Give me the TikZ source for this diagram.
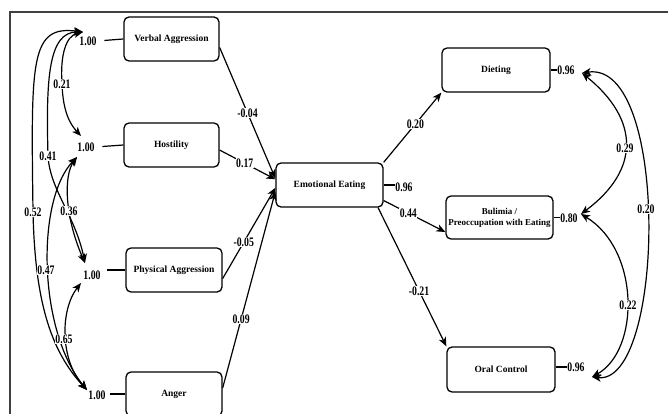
\documentclass[tikz,border=0pt]{standalone}
\usepackage{fontspec}
\setmainfont{Liberation Serif}
\newfontfamily\numfont[FakeStretch=0.75]{Liberation Serif}
\usetikzlibrary{arrows.meta}
\begin{document}
\begin{tikzpicture}[x=1pt,y=-1pt,
  box/.style={draw, line width=1.3pt, rounded corners=5pt, minimum width=95pt, minimum height=44pt, inner sep=1pt, font=\bfseries\fontsize{9.5}{11}\selectfont, align=center},
  coef/.style={font=\numfont\bfseries\fontsize{13}{14}\selectfont, inner sep=0.6pt},
  lab/.style={coef, fill=white},
  tip/.tip={Stealth[length=9pt,width=7.5pt,inset=2.5pt]},
  arr/.style={line width=1.2pt, -tip},
  cov/.style={line width=1.2pt, tip-tip},
  stub/.style={line width=1.2pt}]
\useasboundingbox (0,0) rectangle (668,414);
\clip (0,0) rectangle (668,414);
\draw[line width=1.2pt, black!75] (10,12) rectangle (700,460);

% exogenous boxes
\node[box] (va) at (171.5,39) {Verbal Aggression};
\node[box] (ho) at (171.5,145) {Hostility};
\node[box, minimum width=96pt] (pa) at (174,270) {Physical Aggression};
\node[box, minimum width=96pt] (an) at (174,394) {Anger};
% mediator and outcomes
\node[box, minimum width=107pt] (ee) at (329.5,185) {Emotional Eating};
\node[box, minimum width=108pt] (di) at (496,70) {Dieting};
\node[box, minimum width=107pt, minimum height=43pt, font=\bfseries\fontsize{9}{11}\selectfont] (bu) at (499.5,217.5) {Bulimia /\\Preoccupation with Eating};
\node[box, minimum width=108pt, minimum height=45pt] (oc) at (501,369.5) {Oral Control};

% variances
\node[coef] (eva) at (88,41) {1.00};
\node[coef] (eho) at (86,147) {1.00};
\node[coef] (epa) at (92,275) {1.00};
\node[coef] (ean) at (97,395) {1.00};
\draw[stub, shorten <=7pt] (eva.east) -- (va.west);
\draw[stub, shorten <=7pt] (eho.east) -- (ho.west);
\draw[stub, shorten <=6pt] (epa.east |- pa.west) -- (pa.west);
\draw[stub, shorten <=4pt] (ean.east |- an.west) -- (an.west);

\node[coef] (eee) at (404,187) {0.96};
\node[coef] (edi) at (566,70) {0.96};
\node[coef] (ebu) at (569,218) {0.80};
\node[coef] (eoc) at (576,367) {0.96};
\draw[stub] (ee.east) -- (ee.east -| eee.west);
\draw[stub] (di.east) -- (di.east -| edi.west);
\draw[stub] (bu.east) -- (bu.east -| ebu.west);
\draw[stub] (oc.east |- eoc.west) -- (eoc.west);

% covariance tips
\coordinate (tVA) at (83,32);
\coordinate (tH1) at (81,136);
\coordinate (tH2) at (77,157);
\coordinate (tPA1) at (85,263);
\coordinate (tPA2) at (81,283);
\coordinate (tAn) at (87,390);
\coordinate (c41) at (48,156);
\coordinate (c52) at (33,212);
\coordinate (tD) at (582,73);
\coordinate (tB) at (581,214);
\coordinate (tO) at (592,377);

% left covariances
\draw[cov] (tVA) .. controls (66,36) and (60,55) .. (62,84) .. controls (63,112) and (70,124) .. (tH1);
\draw[cov] (tVA) .. controls (48,32) and (46,80) .. (c41) .. controls (50,190) and (75,215) .. (tPA1);
\draw[cov] (tVA) .. controls (30,25) and (31,60) .. (c52) .. controls (35,300) and (50,350) .. (tAn);
\draw[cov] (tH2) .. controls (64,175) and (64,215) .. (tPA1);
\draw[cov] (tH2) .. controls (36,200) and (38,330) .. (tAn);
\draw[cov] (tPA2) .. controls (60,310) and (60,360) .. (tAn);
\node[lab] (l21) at (62,84) {0.21};
\node[lab] (l41) at (c41) {0.41};
\node[lab] (l52) at (c52) {0.52};
\node[lab] (l36) at (69,211) {0.36};
\node[lab] (l47) at (46,270) {0.47};
\node[lab] (l65) at (64,339) {0.65};

% right covariances
\draw[cov] (tD) .. controls (640,120) and (640,170) .. (tB);
\draw[cov] (tB) .. controls (640,250) and (640,350) .. (tO);
\draw[cov] (tD) .. controls (670,60) and (665,385) .. (tO);
\node[lab] (l29) at (625,148) {0.29};
\node[lab] (l22) at (628,305) {0.22};
\node[lab] (l20) at (646,209) {0.20};

% structural paths
\draw[arr] (va.-10) -- node[lab, pos=0.5] {-0.04} (ee.173.6);
\draw[arr] (ho.-6) -- node[lab, pos=0.45] {0.17} (ee.174.5);
\draw[arr] (pa.-10) -- node[lab, pos=0.4] {-0.05} (ee.183);
\draw[arr] (an.7) -- node[lab, pos=0.35] {0.09} (ee.187.5);
\draw[arr] (ee.north east) -- node[lab, pos=0.55] {0.20} (di.south west);
\draw[arr] (ee.-16) -- node[lab, pos=0.4] {0.44} (bu.195);
\draw[arr] (ee.-25) -- node[lab, pos=0.6] {-0.21} (oc.north west);
\end{tikzpicture}
\end{document}
